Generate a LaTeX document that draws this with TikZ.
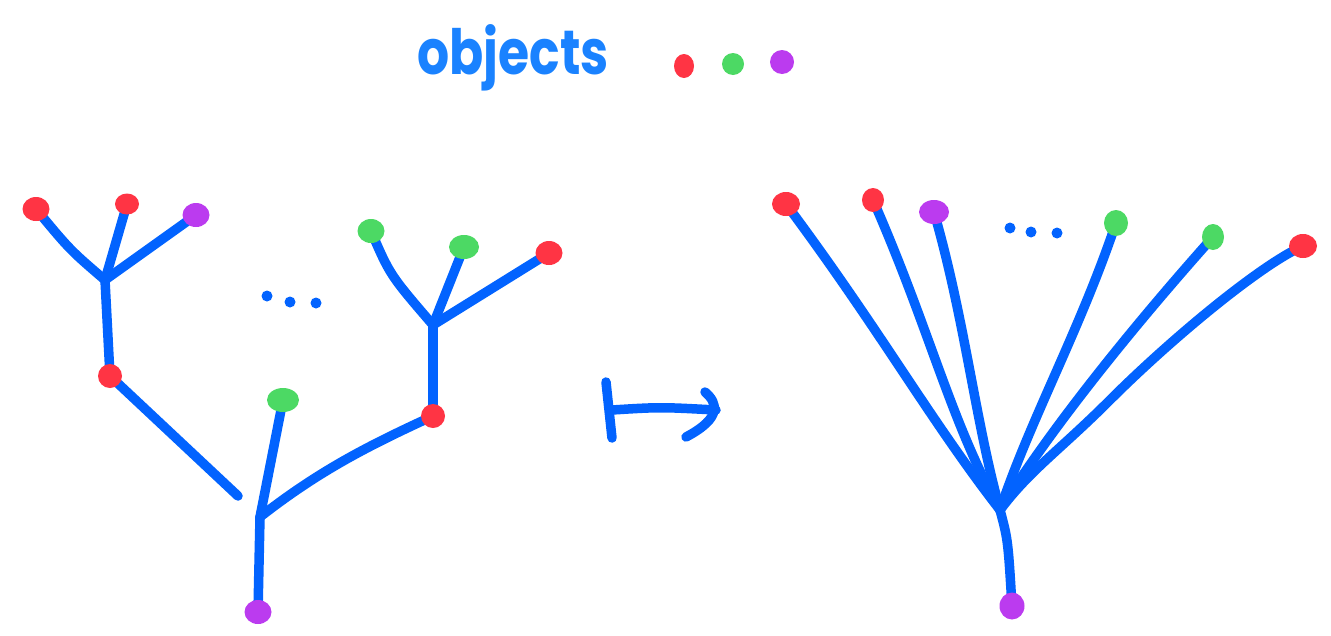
\documentclass[tikz,border=0pt]{standalone}
\usepackage{fontspec}
\newfontfamily\objfont{Poppins}
\definecolor{stroke}{RGB}{2,99,255}
\definecolor{textblue}{RGB}{26,130,255}
\definecolor{dred}{RGB}{255,52,68}
\definecolor{dgreen}{RGB}{76,217,100}
\definecolor{dpurple}{RGB}{187,59,239}
\tikzset{
  branch/.style={draw=stroke,line width=9.5pt,line cap=round,line join=round},
  dotbase/.style={ellipse,minimum width=27pt,minimum height=24pt,inner sep=0pt},
  rdot/.style={dotbase,fill=dred},
  gdot/.style={dotbase,fill=dgreen},
  pdot/.style={dotbase,fill=dpurple},
  tiny/.style={circle,fill=stroke,minimum size=11pt,inner sep=0pt}
}
\usetikzlibrary{shapes.geometric}
\begin{document}
\begin{tikzpicture}[x=1pt,y=-1pt]
\useasboundingbox (0,0) rectangle (1331,635);
% title
\node[text=textblue,font=\objfont\bfseries\fontsize{52}{52}\selectfont,yscale=1.2,xscale=0.97] (title) at (513,58) {objects};
\node[rdot,minimum width=20pt,minimum height=24pt] (o1) at (684,66) {};
\node[gdot,minimum width=22pt,minimum height=22pt] (o2) at (733,64) {};
\node[pdot,minimum width=24pt,minimum height=24pt] (o3) at (782,62) {};

% left tree coordinates
\coordinate (A) at (105,280);
\coordinate (B) at (260,517);
\coordinate (C) at (433,325);
\coordinate (gapend) at (238,496);
\coordinate (l1) at (36,209);
\coordinate (l2) at (127,204);
\coordinate (l3) at (196,215);
\coordinate (m) at (110,376);
\coordinate (g1) at (283,400);
\coordinate (r1) at (258,612);
\coordinate (n) at (433,416);
\coordinate (c1) at (371,231);
\coordinate (c2) at (464,247);
\coordinate (c3) at (549,253);

\draw[branch] (l1) .. controls (70,250) .. (A);
\draw[branch] (l2) -- (A);
\draw[branch] (l3) -- (A);
\draw[branch] (A) -- (m);
\draw[branch] (m) -- (gapend);
\draw[branch] (g1) -- (B);
\draw[branch] (B) -- (r1);
\draw[branch] (B) .. controls (320,470) and (370,445) .. (n);
\draw[branch] (n) -- (C);
\draw[branch] (c1) .. controls (390,275) .. (C);
\draw[branch] (c2) -- (C);
\draw[branch] (c3) -- (C);

\node[rdot] (L1) at (l1) {};
\node[rdot,minimum width=24pt,minimum height=21pt] (L2) at (l2) {};
\node[pdot] (L3) at (l3) {};
\node[rdot,minimum width=24pt] (M) at (m) {};
\node[gdot,minimum width=32pt] (G1) at (g1) {};
\node[pdot] (R1) at (r1) {};
\node[rdot,minimum width=24pt] (N) at (n) {};
\node[gdot] (C1) at (c1) {};
\node[gdot,minimum width=30pt] (C2) at (c2) {};
\node[rdot] (C3) at (c3) {};

\node[tiny] (e1) at (267,296) {};
\node[tiny] (e2) at (290,302) {};
\node[tiny] (e3) at (316,303) {};

% maps-to arrow
\coordinate (ms1) at (606,382);
\coordinate (ms2) at (612,438);
\coordinate (ms3) at (612,410);
\coordinate (me) at (716,410);
\coordinate (mh1) at (705,392);
\coordinate (mh2) at (686,437);
\draw[branch] (ms1) -- (ms2);
\draw[branch] (ms3) .. controls (660,407) .. (me);
\draw[branch] (mh1) .. controls (718,403) and (722,418) .. (mh2);

% right tree
\coordinate (R) at (1000,510);
\coordinate (rl1) at (786,204);
\coordinate (rl2) at (873,200);
\coordinate (rl3) at (934,212);
\coordinate (rl4) at (1116,223);
\coordinate (rl5) at (1213,237);
\coordinate (rl6) at (1303,246);
\coordinate (rb) at (1012,606);

\draw[branch] (rl1) .. controls (880,330) and (930,420) .. (R);
\draw[branch] (rl2) .. controls (930,330) and (950,420) .. (R);
\draw[branch] (rl3) .. controls (965,320) and (975,420) .. (R);
\draw[branch] (rl4) .. controls (1080,330) and (1030,420) .. (R);
\draw[branch] (rl5) .. controls (1130,330) and (1050,430) .. (R);
\draw[branch] (rl6) .. controls (1260,265) and (1170,340) .. (1110,400) .. controls (1060,450) and (1030,470) .. (R);
\draw[branch] (R) .. controls (1008,540) .. (rb);

\node[rdot,minimum width=28pt] (RL1) at (rl1) {};
\node[rdot,minimum width=22pt] (RL2) at (rl2) {};
\node[pdot,minimum width=30pt] (RL3) at (rl3) {};
\node[gdot,minimum width=24pt,minimum height=26pt] (RL4) at (rl4) {};
\node[gdot,minimum width=22pt,minimum height=26pt] (RL5) at (rl5) {};
\node[rdot,minimum width=28pt] (RL6) at (rl6) {};
\node[pdot,minimum width=25pt,minimum height=27pt] (RB) at (rb) {};

\node[tiny] (f1) at (1010,228) {};
\node[tiny] (f2) at (1031,232) {};
\node[tiny] (f3) at (1057,233) {};
\end{tikzpicture}
\end{document}
